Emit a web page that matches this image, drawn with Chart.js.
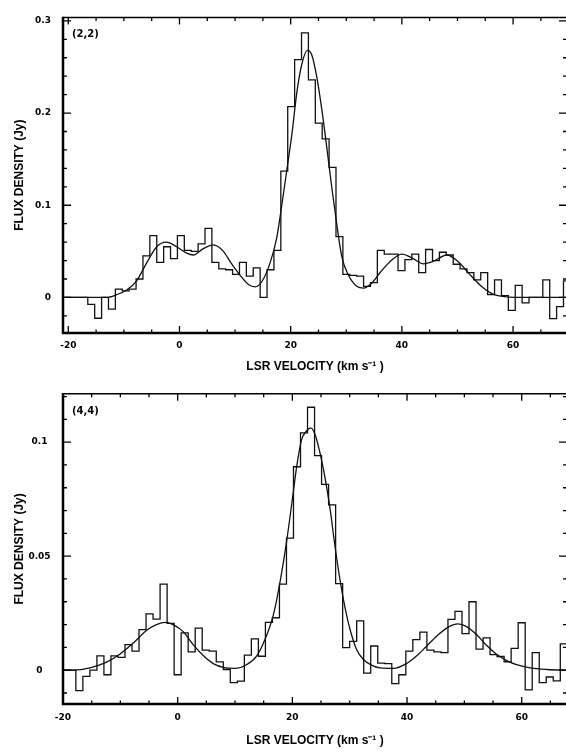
<!DOCTYPE html>
<html><head><meta charset="utf-8">
<script src="https://cdn.jsdelivr.net/npm/chart.js@4"></script>
<style>
html,body{margin:0;padding:0;background:#fff;overflow:hidden;}
#wrap{position:relative;width:566px;height:752px;overflow:hidden;background:#fff;}
canvas{position:absolute;left:0;}
#c1{top:0;} #c2{top:376px;}
</style></head><body>
<div id="wrap"><canvas id="c1" width="568" height="376"></canvas><canvas id="c2" width="568" height="376"></canvas></div>
<script>
// ---------------- data ----------------
const velocityTickLabels = [-20, 0, 20, 40, 60];
const fluxTickLabels22 = ['0', '0.1', '0.2', '0.3'];
const fluxTickLabels44 = ['0', '0.05', '0.1'];

// NH3 (2,2) spectrum: channel start velocity (km/s), channel width, flux per channel (Jy)
const chanStart22 = -21.45;
const chanWidth22 = 1.24;
const flux22 = [
  0, 0, 0, 0, -0.0076, -0.0226, 0.0, -0.0128, 0.009, 0.007,
  0.009, 0.020, 0.045, 0.067, 0.038, 0.055, 0.042, 0.067, 0.051, 0.050,
  0.058, 0.075, 0.038, 0.031, 0.030, 0.025, 0.038, 0.023, 0.032, 0.0,
  0.030, 0.051, 0.137, 0.207, 0.258, 0.287, 0.236, 0.189, 0.172, 0.141,
  0.066, 0.025, 0.024, 0.023, 0.012, 0.016, 0.051, 0.047, 0.047, 0.029,
  0.041, 0.047, 0.027, 0.052, 0.040, 0.049, 0.046, 0.036, 0.031, 0.027,
  0.019, 0.027, 0.003, 0.019, 0.002, -0.014, 0.013, -0.006, 0.0, 0.0,
  0.019, -0.023, -0.010, 0.018
];
// fitted hyperfine model (2,2)
const fitVel22 = [-21, -16, -13.1, -11.3, -9.5, -7.7, -5.9, -4.1, -2.4, -0.5, 1.3, 2.5, 4.3, 6.1, 7.9, 9.2, 10.9, 12.4, 13.6, 14.8, 16.3, 17.5, 18.4, 19.3, 20.2, 21.1, 22.0, 23.0, 23.8, 24.7, 25.6, 26.5, 27.4, 28.3, 29.2, 30.4, 31.9, 33.1, 34.5, 36.1, 37.9, 40.0, 41.8, 43.9, 45.6, 48.1, 50.1, 52.2, 54.4, 56.4, 58.8, 62, 70];
const fitFlux22 = [0, 0, 0.0, 0.003, 0.008, 0.018, 0.0375, 0.055, 0.060, 0.055, 0.048, 0.046, 0.053, 0.057, 0.050, 0.038, 0.024, 0.014, 0.0115, 0.017, 0.0375, 0.065, 0.100, 0.138, 0.176, 0.222, 0.253, 0.268, 0.263, 0.239, 0.204, 0.1625, 0.119, 0.079, 0.044, 0.024, 0.012, 0.010, 0.015, 0.027, 0.039, 0.047, 0.043, 0.0365, 0.039, 0.046, 0.039, 0.025, 0.0115, 0.0035, 0.0007, 0, 0];

// NH3 (4,4) spectrum
const chanStart44 = -20.21;
const chanWidth44 = 1.2245;
const flux44 = [
  0, 0, -0.009, -0.0027, 0.0, 0.0063, -0.002, 0.0063, 0.0056, 0.0112,
  0.0084, 0.0178, 0.0247, 0.0224, 0.0377, 0.0205, -0.002, 0.0164, 0.008, 0.0184,
  0.0088, 0.0084, 0.0036, 0.0003, -0.0055, -0.0048, 0.0066, 0.0137, 0.0061, 0.021,
  0.023, 0.0377, 0.0579, 0.0892, 0.1041, 0.1153, 0.0941, 0.0815, 0.0725, 0.038,
  0.0099, 0.0126, 0.0216, -0.0013, 0.0106, 0.0031, 0.0029, -0.0059, -0.002, 0.0084,
  0.0134, 0.0167, 0.0088, 0.0080, 0.0077, 0.0223, 0.0258, 0.016, 0.030, 0.0092,
  0.0142, 0.0068, 0.006, 0.0037, 0.0096, 0.0208, -0.0086, 0.0077, -0.0055, -0.003,
  -0.0047, 0.0115, 0.0115
];
const fitVel44 = [-20, -18.2, -15.3, -12.4, -10.1, -7.7, -5.4, -3.7, -2.2, -0.8, 1.0, 2.7, 4.5, 6.2, 8.0, 10.0, 12.0, 13.8, 15.2, 16.7, 17.8, 19.0, 19.9, 20.8, 21.6, 22.5, 23.2, 23.9, 24.8, 25.7, 26.6, 27.4, 28.3, 29.2, 30.1, 31.2, 32.4, 33.8, 35.3, 37.6, 39.9, 41.7, 43.4, 45.2, 47.2, 48.9, 50.4, 52.2, 53.9, 55.6, 57.4, 59.1, 61.5, 64.4, 68];
const fitFlux44 = [0, 0, 0.001, 0.0035, 0.007, 0.012, 0.0175, 0.020, 0.021, 0.020, 0.0168, 0.0112, 0.0063, 0.0029, 0.0012, 0.0008, 0.0024, 0.0063, 0.0133, 0.0244, 0.038, 0.0565, 0.073, 0.090, 0.101, 0.105, 0.1063, 0.1038, 0.0955, 0.0843, 0.0704, 0.055, 0.0398, 0.0272, 0.0175, 0.0091, 0.0047, 0.0022, 0.001, 0.0008, 0.0029, 0.0063, 0.0105, 0.015, 0.0189, 0.0203, 0.0191, 0.0154, 0.0108, 0.007, 0.0042, 0.0024, 0.001, 0.0003, 0];

// ---------------- helpers ----------------
function histPoints(start, width, vals) {
  const pts = [{x: start, y: vals[0]}];
  vals.forEach((v, i) => pts.push({x: start + (i + 0.5) * width, y: v}));
  pts.push({x: start + vals.length * width, y: vals[vals.length - 1]});
  return pts;
}
function fitPoints(vs, fs) { return vs.map((v, i) => ({x: v, y: fs[i]})); }

const framePlugin = {
  id: 'frame',
  afterDatasetsDraw(chart, args, o) {
    const {ctx, chartArea: a, scales: {x, y}} = chart;
    ctx.save();
    ctx.strokeStyle = '#000';
    ctx.lineCap = 'butt';
    // ticks
    ctx.lineWidth = 1.3;
    ctx.beginPath();
    for (let v = Math.ceil(x.min / o.xMinor) * o.xMinor; v <= x.max + 1e-9; v += o.xMinor) {
      const px = x.getPixelForValue(v);
      const major = Math.abs(v / o.xMajor - Math.round(v / o.xMajor)) < 1e-6;
      const L = major ? 7 : 3.5;
      ctx.moveTo(px, a.bottom); ctx.lineTo(px, a.bottom - L);
      ctx.moveTo(px, a.top); ctx.lineTo(px, a.top + L);
    }
    for (let i = Math.ceil(y.min / o.yMinor - 1e-6); i * o.yMinor <= y.max + 1e-9; i++) {
      const v = i * o.yMinor;
      const py = y.getPixelForValue(v);
      const major = Math.abs(v / o.yMajor - Math.round(v / o.yMajor)) < 1e-6;
      const L = major ? 8 : 4;
      ctx.moveTo(a.left, py); ctx.lineTo(a.left + L, py);
      ctx.moveTo(a.right, py); ctx.lineTo(a.right - L, py);
    }
    ctx.stroke();
    // frame
    ctx.lineWidth = 1.5;
    ctx.beginPath();
    ctx.moveTo(a.left, a.top); ctx.lineTo(a.right, a.top); ctx.lineTo(a.right, a.bottom);
    ctx.stroke();
    ctx.lineWidth = 2.5;
    ctx.beginPath();
    ctx.moveTo(a.left, a.top - 0.75); ctx.lineTo(a.left, a.bottom); ctx.lineTo(a.right, a.bottom);
    ctx.stroke();
    // panel label
    ctx.fillStyle = '#000';
    ctx.font = 'bold 10px "DejaVu Sans"';
    ctx.textBaseline = 'middle';
    ctx.textAlign = 'left';
    ctx.fillText(o.label, a.left + 9, a.top + o.labelDy);
    ctx.restore();
  }
};

function makeChart(canvas, cfg) {
  return new Chart(canvas, {
    type: 'line',
    data: {
      datasets: [
        {data: cfg.hist, stepped: 'middle', borderColor: '#111', borderWidth: 1.3, pointRadius: 0, fill: false},
        {data: cfg.fit, cubicInterpolationMode: 'monotone', borderColor: '#111', borderWidth: 1.3, pointRadius: 0, fill: false}
      ]
    },
    options: {
      responsive: false, animation: false,
      layout: {padding: {top: cfg.padTop, right: 1, left: 0, bottom: 0}},
      plugins: {
        legend: {display: false}, tooltip: {enabled: false},
        frame: {label: cfg.label, labelDy: cfg.labelDy, xMajor: 20, xMinor: 5, yMajor: cfg.yMajor, yMinor: cfg.yMinor}
      },
      scales: {
        x: {
          type: 'linear', min: cfg.xMin, max: cfg.xMax,
          grid: {display: false, drawTicks: false}, border: {display: false},
          afterBuildTicks: s => { s.ticks = velocityTickLabels.map(v => ({value: v})); },
          ticks: {color: '#000', font: {family: 'DejaVu Sans', size: 9, weight: 'bold'}, padding: cfg.xTickPad,
                  maxRotation: 0, autoSkip: false, callback: v => String(v)},
          title: {display: true, text: 'LSR VELOCITY (km s\u207B\u00B9 )', color: '#000',
                  font: {family: 'Liberation Sans', size: 12, weight: 'bold'}, padding: {top: 0, bottom: cfg.xTitlePad}},
          afterFit: s => { s.height = cfg.xHeight; }
        },
        y: {
          type: 'linear', min: cfg.yMin, max: cfg.yMax,
          grid: {display: false, drawTicks: false}, border: {display: false},
          afterBuildTicks: s => { s.ticks = cfg.yLabels.map(v => ({value: parseFloat(v)})); },
          ticks: {color: '#000', font: {family: 'DejaVu Sans', size: 9, weight: 'bold'}, padding: cfg.yTickPad,
                  crossAlign: cfg.yCross, autoSkip: false, callback: (v, i) => cfg.yLabels[i]},
          title: {display: true, text: 'FLUX DENSITY (Jy)', color: '#000',
                  font: {family: 'Liberation Sans', size: 12, weight: 'bold'}, padding: {top: 12.8, bottom: 0}},
          afterFit: s => { s.width = 63; }
        }
      }
    },
    plugins: [framePlugin]
  });
}

makeChart(document.getElementById('c1'), {
  hist: histPoints(chanStart22, chanWidth22, flux22),
  fit: fitPoints(fitVel22, fitFlux22),
  xMin: -20.95, xMax: 69.7, yMin: -0.0386, yMax: 0.3038,
  yLabels: fluxTickLabels22, yMajor: 0.1, yMinor: 0.02,
  padTop: 5, xHeight: 43, xTickPad: 7, xTitlePad: 2.3, yTickPad: 12, yCross: 'near',
  label: '(2,2)', labelDy: 17
});
makeChart(document.getElementById('c2'), {
  hist: histPoints(chanStart44, chanWidth44, flux44),
  fit: fitPoints(fitVel44, fitFlux44),
  xMin: -20, xMax: 67.9, yMin: -0.01483, yMax: 0.1212,
  yLabels: fluxTickLabels44, yMajor: 0.05, yMinor: 0.01,
  padTop: 2.3, xHeight: 48, xTickPad: 8.6, xTitlePad: 3.8, yTickPad: 12.4, yCross: 'center',
  label: '(4,4)', labelDy: 18
});
</script>
</body></html>
